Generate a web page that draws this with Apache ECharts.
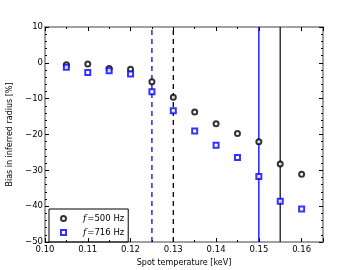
<!DOCTYPE html>
<html><head><meta charset="utf-8">
<script src="https://cdn.jsdelivr.net/npm/echarts@6/dist/echarts.min.js"></script>
<style>html,body{margin:0;padding:0;background:#fff}#c{width:360px;height:270px}</style>
</head><body><div id="c"></div>
<script>
const temps = [0.105,0.11,0.115,0.12,0.125,0.13,0.135,0.14,0.145,0.15,0.155,0.16];
const bias500 = [-0.5,-0.3,-1.6,-1.8,-5.3,-9.6,-13.7,-17.0,-19.7,-22.0,-28.2,-31.1];
const bias716 = [-1.2,-2.7,-2.2,-3.1,-8.1,-13.4,-19.0,-23.0,-26.4,-31.7,-38.6,-40.8];
const dashedLine716 = 0.125, dashedLine500 = 0.13;
const solidLine716 = 0.15, solidLine500 = 0.155;
const yRange = [-50, 10];

const chart = echarts.init(document.getElementById('c'), null, {renderer:'canvas'});
const font = 'DejaVu Sans';
const minus = v => String(v).replace('-', '\u2212');
const frame = '#a0a0a0';
function axisCommon(n){
  return {
    axisLine:{show:true,onZero:false,lineStyle:{color:frame,width:2}},
    axisTick:{show:true,inside:true,length:4,lineStyle:{color:'#000',width:1}},
    minorTick:{show:true,splitNumber:n,length:2,lineStyle:{color:'#000',width:1}},
    splitLine:{show:false}
  };
}
const lbl = {fontFamily:font,fontSize:8.5,color:'#000'};
function vline(x, color, type, w){
  return {type:'line',data:[[x,yRange[0]],[x,yRange[1]]],symbol:'none',silent:true,z:2,
    lineStyle:{color:color,type:type,width:w}};
}
chart.setOption({
  animation:false,
  grid:{left:45,right:37,top:27,bottom:28,outerBoundsMode:'none',containLabel:false},
  xAxis:[
    Object.assign({type:'value',min:0.10,max:0.165,interval:0.01,position:'bottom',
      name:'Spot temperature [keV]',nameLocation:'middle',nameGap:15,
      nameTextStyle:{fontFamily:font,fontSize:8,color:'#000'},
      axisLabel:Object.assign({formatter:v=>v.toFixed(2),showMaxLabel:false,margin:3},lbl)},axisCommon(2)),
    Object.assign({type:'value',min:0.10,max:0.165,interval:0.01,position:'top',
      axisLabel:{show:false}},axisCommon(2))
  ],
  yAxis:[
    Object.assign({type:'value',min:-50,max:10,interval:10,position:'left',
      name:'Bias in inferred radius [%]',nameLocation:'middle',nameGap:22,
      nameTextStyle:{fontFamily:font,fontSize:8,color:'#000'},
      axisLabel:Object.assign({formatter:minus,margin:2},lbl)},axisCommon(5)),
    Object.assign({type:'value',min:-50,max:10,interval:10,position:'right',
      axisLabel:{show:false}},axisCommon(5))
  ],
  legend:{
    left:49,top:209,orient:'vertical',itemGap:5,itemWidth:5,itemHeight:5,
    itemStyle:{borderWidth:1},
    borderColor:'#000',borderWidth:1,borderRadius:0,padding:[5,4,5,11],
    data:['f500','f716'],
    formatter: n => '{i|f}{t|=' + n.slice(1) + ' Hz}',
    textStyle:{fontFamily:font,fontSize:8.5,color:'#000',
      rich:{i:{fontStyle:'italic',fontFamily:'DejaVu Serif',fontSize:9,padding:[0,1,0,12]},t:{fontFamily:font,fontSize:8.5}}}
  },
  series:[
    vline(dashedLine716,'#0000ff',[5,4],1.3),
    vline(dashedLine500,'#000',[5,4],1.3),
    vline(solidLine716,'#0000ff','solid',1.3),
    vline(solidLine500,'#333','solid',1.5),
    {name:'f500',type:'scatter',symbol:'emptyCircle',symbolSize:5,
      itemStyle:{color:'#000',borderColor:'#000',borderWidth:1.2},
      data:temps.map((t,i)=>[t,bias500[i]]),z:5},
    {name:'f716',type:'scatter',symbol:'emptyRect',symbolSize:5,
      itemStyle:{color:'#0000ff',borderColor:'#0000ff',borderWidth:1.2},
      data:temps.map((t,i)=>[t,bias716[i]]),z:5}
  ]
});
</script></body></html>
